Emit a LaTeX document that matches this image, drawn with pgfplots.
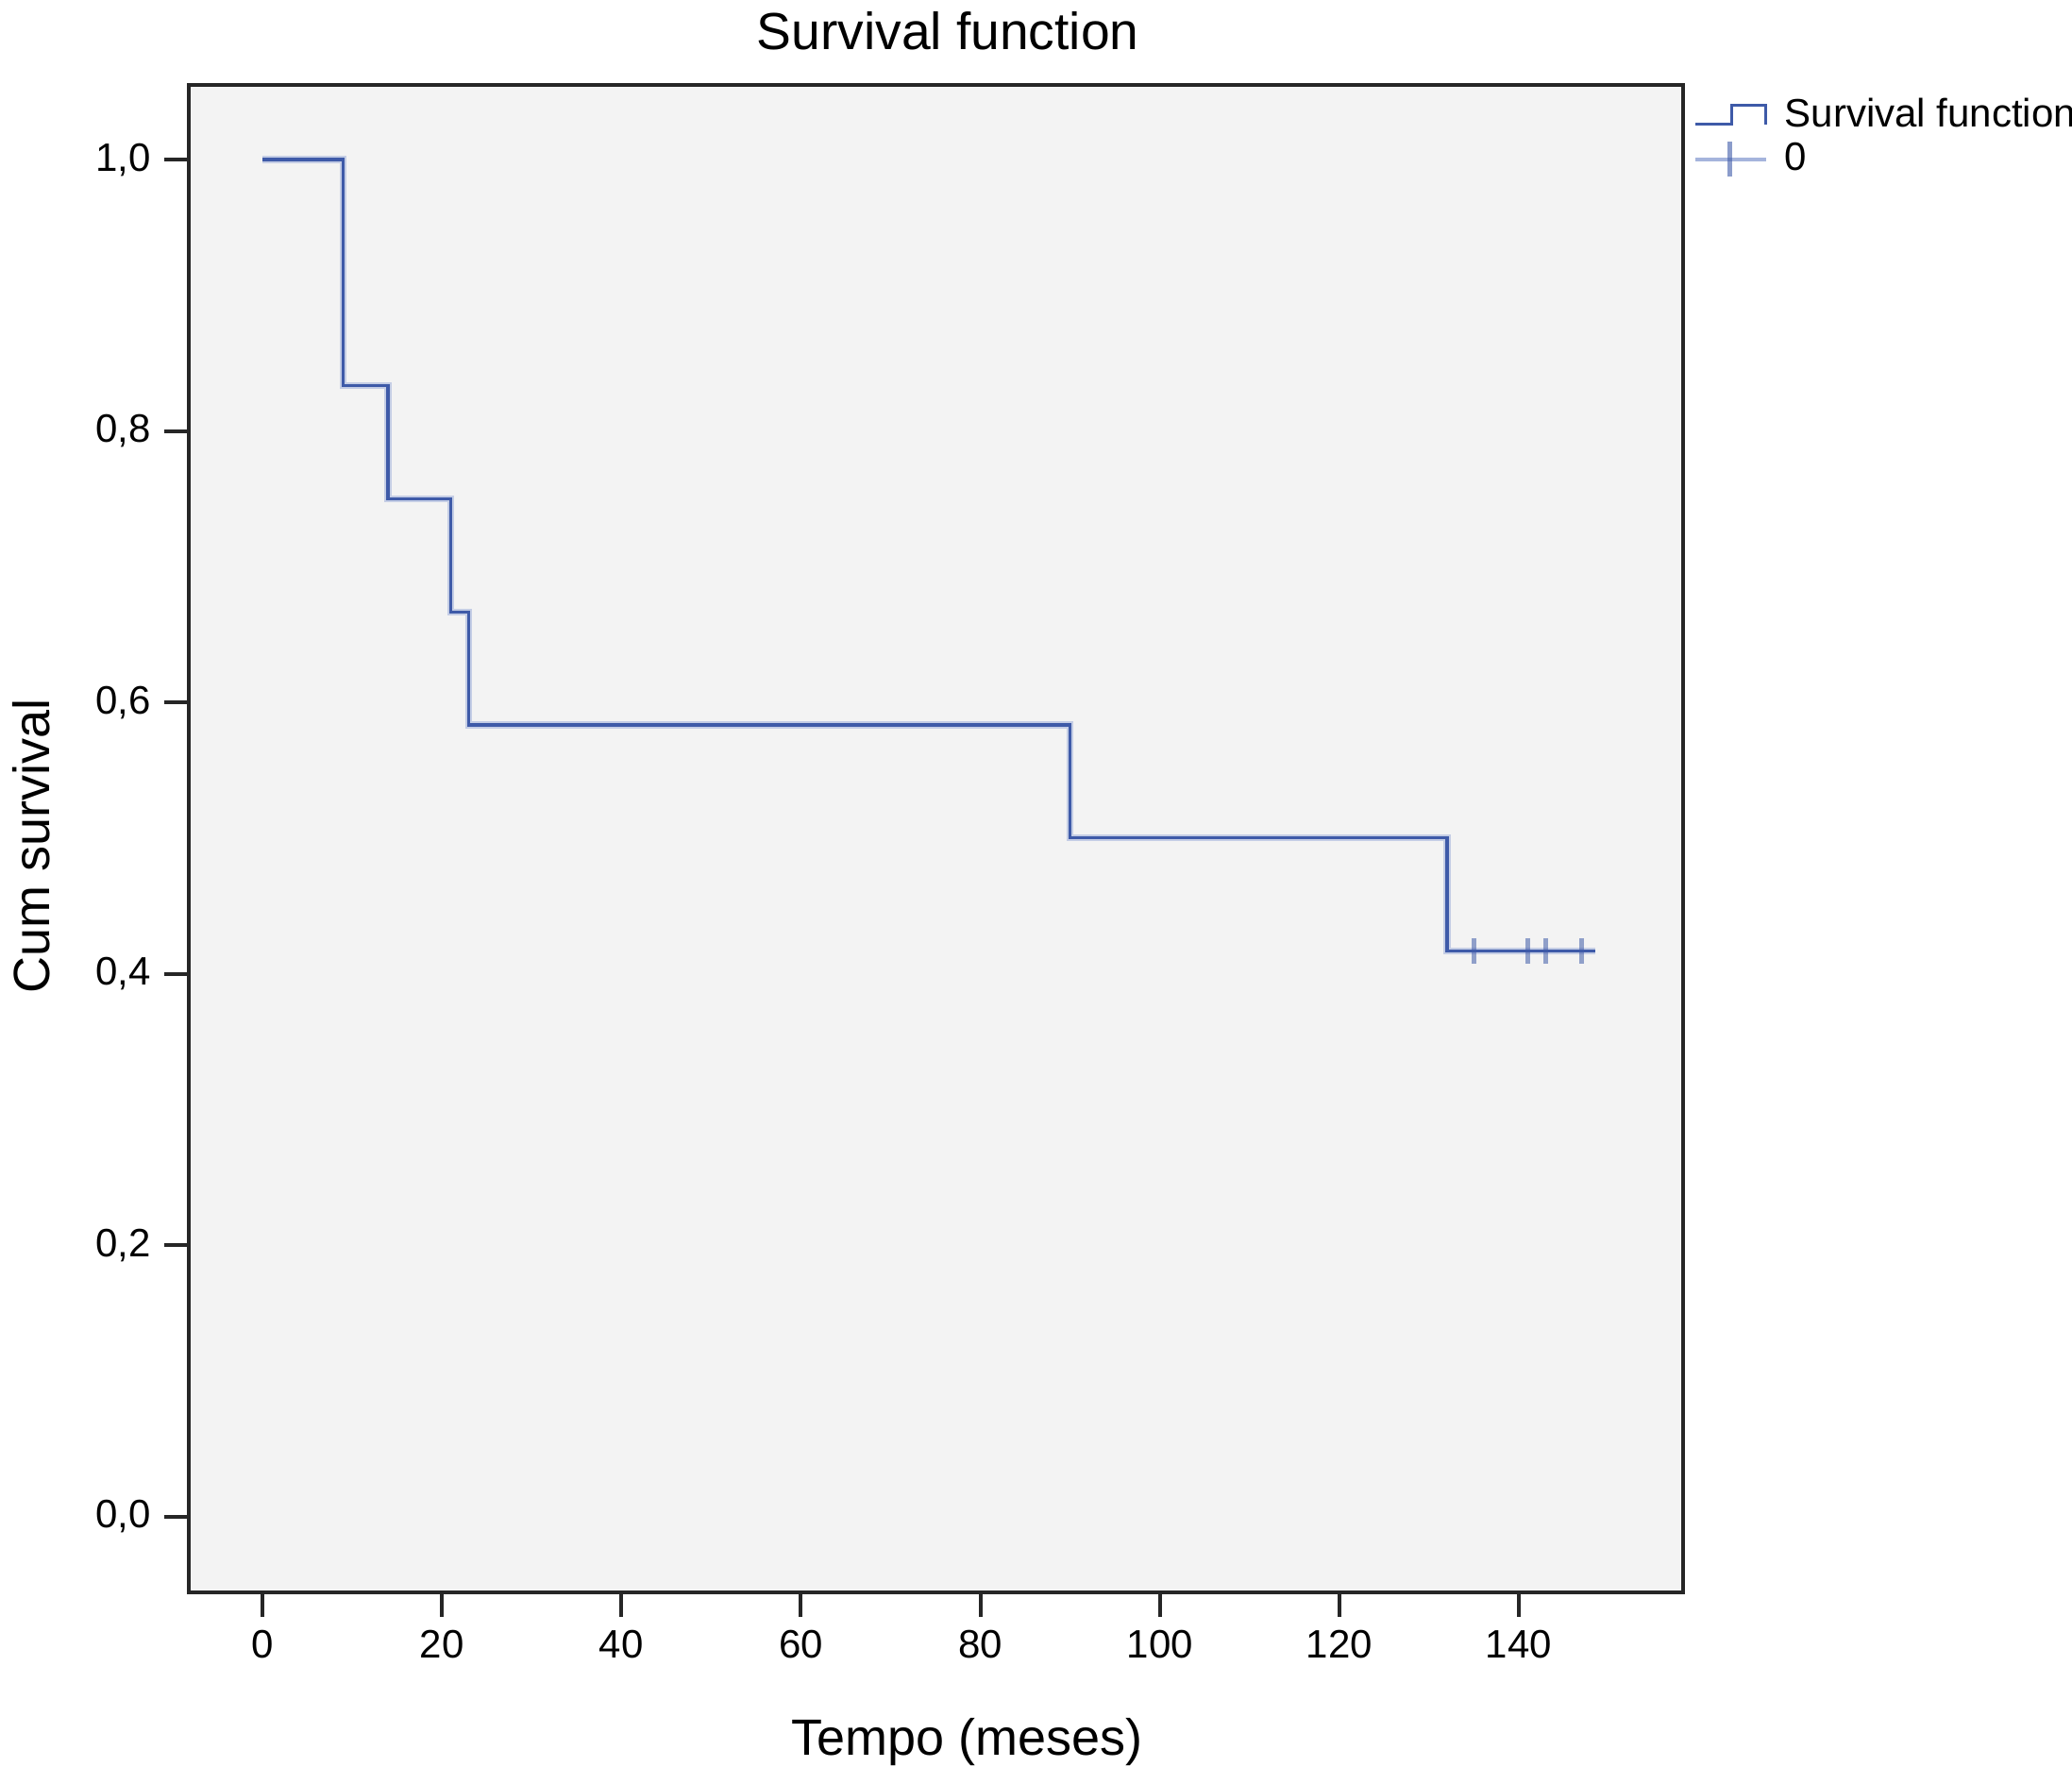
\documentclass[border=0pt]{standalone}
\usepackage{fontspec}
\setmainfont{Liberation Sans}
\usepackage{pgfplots}
\pgfplotsset{compat=1.18}
\definecolor{kmblue}{RGB}{62,90,168}
\definecolor{kmlight}{RGB}{165,180,220}
\definecolor{bgcol}{RGB}{243,243,243}
\begin{document}
\begin{tikzpicture}
\useasboundingbox (0,0) rectangle (548.75pt,-468pt);
\begin{axis}[
  at={(50pt,-421.75pt)}, anchor=south west,
  scale only axis, width=395.75pt, height=399.25pt,
  xmin=-8.2, xmax=158.3, ymin=-0.056, ymax=1.055,
  axis background/.style={fill=bgcol},
  axis line style={line width=1pt, black!85},
  xtick={0,20,...,140}, ytick={0,0.2,0.4,0.6,0.8,1.0},
  xtick pos=bottom, ytick pos=left,
  tick align=outside, major tick length=6.5pt,
  every tick/.style={black!85, line width=1pt},
  /pgf/number format/assume math mode=true,
  yticklabel style={/pgf/number format/.cd, fixed, fixed zerofill, precision=1, use comma},
  xticklabel style={/pgf/number format/.cd, fixed},
  tick label style={font=\fontsize{10.5}{12}\selectfont},
  title={Survival function},
  title style={at={(axis description cs:0.508,1.0257)}, anchor=base, yshift=-7pt, font=\fontsize{13.8}{16}\selectfont, inner sep=0pt},
  xlabel={Tempo (meses)},
  xlabel style={at={(axis description cs:0.521,-0.1077)}, anchor=base, font=\fontsize{13.5}{16}\selectfont, inner sep=0pt},
  ylabel={Cum survival},
  ylabel style={at={(axis description cs:-0.0929,0.4953)}, anchor=base, font=\fontsize{13.5}{16}\selectfont, inner sep=0pt},
  legend style={at={(axis description cs:1.0063,0.997)}, anchor=north west, draw=none, fill=none, inner sep=0pt, font=\fontsize{10.5}{12}\selectfont, row sep=-1.2pt, column sep=2.5pt},
  legend cell align=left,
]
\addplot[const plot, color=kmlight, line width=1.8pt, opacity=0.6, forget plot] coordinates {
  (0,1) (9,0.8333) (14,0.75) (21,0.6667) (23,0.5833) (90,0.5) (132,0.4167) (148.5,0.4167)};
\addplot[const plot, color=kmblue, line width=0.8pt,
  legend image code/.code={\draw[kmblue, line width=0.75pt] (0pt,-2.5pt) -- (9.75pt,-2.5pt) -- (9.75pt,2.5pt) -- (18.75pt,2.5pt) -- (18.75pt,-2.5pt);}]
  coordinates {(0,1) (9,0.8333) (14,0.75) (21,0.6667) (23,0.5833) (90,0.5) (132,0.4167) (148.5,0.4167)};
\addlegendentry{Survival function}
\addplot[only marks, mark=|, mark size=3.4pt, mark options={draw=kmblue, draw opacity=0.55, line width=1.3pt},
  legend image code/.code={\draw[kmlight, line width=1pt] (0pt,0pt) -- (18.75pt,0pt); \draw[kmblue, opacity=0.6, line width=1.3pt] (9.25pt,-4.6pt) -- (9.25pt,4.6pt);}]
  coordinates {(135,0.4167) (141,0.4167) (143,0.4167) (147,0.4167)};
\addlegendentry{0}
\end{axis}
\end{tikzpicture}
\end{document}
